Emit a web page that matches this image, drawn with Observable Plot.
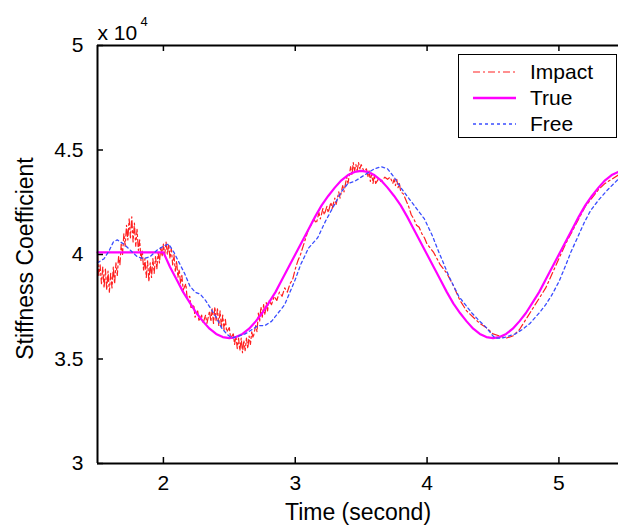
<!DOCTYPE html>
<html><head><meta charset="utf-8">
<script src="https://cdn.jsdelivr.net/npm/d3@7"></script>
<script src="https://cdn.jsdelivr.net/npm/@observablehq/plot@0.6"></script>
<style>
body{margin:0;background:#fff;overflow:hidden;}
#wrap{position:relative;width:618px;height:532px;font-family:"Liberation Sans",Arial,sans-serif;}
#legend{position:absolute;left:458px;top:54px;width:159px;height:84px;border:1.5px solid #000;background:#fff;box-sizing:border-box;}
#legend .row{position:absolute;left:0;height:26px;width:100%;}
#legend svg{position:absolute;left:13px;top:0;}
#legend span{position:absolute;left:71px;top:0;line-height:26px;font-size:21px;color:#000;}
</style>
</head><body><div id="wrap"></div>
<script>
// Series names
const seriesNames = ["Impact", "True", "Free"];
const seriesColors = ["#ff2020", "#ff00ff", "#3a4dff"];

// Axis ticks
const xTicks = [2, 3, 4, 5];
const yTicks = [3, 3.5, 4, 4.5, 5];
const xDomain = [1.5, 5.452];
const yDomain = [3, 5];

// True (values ×10^4)
const trueT = [1.5,1.6,1.7,1.8,1.9,2.0,2.05,2.1,2.15,2.2,2.25,2.3,2.35,2.4,2.45,2.5,2.55,2.6,2.65,2.7,2.75,2.8,2.85,2.9,2.95,3.0,3.05,3.1,3.15,3.2,3.25,3.3,3.35,3.4,3.45,3.5,3.55,3.6,3.65,3.7,3.75,3.8,3.85,3.9,3.95,4.0,4.05,4.1,4.15,4.2,4.25,4.3,4.35,4.4,4.45,4.5,4.55,4.6,4.65,4.7,4.75,4.8,4.85,4.9,4.95,5.0,5.05,5.1,5.15,5.2,5.25,5.3,5.35,5.4,5.45];
const trueV = [4.01,4.01,4.01,4.01,4.01,4.01,3.94,3.88,3.82,3.77,3.72,3.68,3.645,3.62,3.605,3.60,3.605,3.62,3.645,3.68,3.72,3.77,3.82,3.88,3.94,4.00,4.06,4.12,4.18,4.235,4.28,4.32,4.355,4.38,4.395,4.40,4.395,4.38,4.355,4.32,4.28,4.235,4.18,4.12,4.06,4.00,3.94,3.88,3.82,3.765,3.72,3.68,3.645,3.62,3.605,3.60,3.605,3.62,3.645,3.68,3.72,3.77,3.82,3.88,3.94,4.00,4.06,4.12,4.18,4.235,4.28,4.32,4.355,4.38,4.395];

// Impact (noisy estimate)
const impactT = [1.50,1.51,1.52,1.53,1.54,1.55,1.56,1.57,1.58,1.59,1.60,1.61,1.62,1.63,1.64,1.65,1.66,1.67,1.68,1.69,1.70,1.71,1.72,1.73,1.74,1.75,1.76,1.77,1.78,1.79,1.80,1.81,1.82,1.83,1.84,1.85,1.86,1.87,1.88,1.89,1.90,1.91,1.92,1.93,1.94,1.95,1.96,1.97,1.98,1.99,2.00,2.01,2.02,2.03,2.04,2.05,2.06,2.07,2.08,2.09,2.10,2.11,2.12,2.13,2.14,2.15,2.17,2.18,2.20,2.21,2.23,2.24,2.26,2.27,2.29,2.30,2.32,2.33,2.35,2.36,2.37,2.38,2.39,2.40,2.41,2.42,2.43,2.44,2.45,2.46,2.47,2.48,2.50,2.51,2.53,2.54,2.55,2.56,2.57,2.58,2.59,2.60,2.61,2.62,2.63,2.64,2.65,2.66,2.67,2.68,2.70,2.71,2.72,2.73,2.74,2.75,2.76,2.77,2.78,2.79,2.80,2.82,2.84,2.86,2.88,2.90,2.92,2.94,2.96,2.98,3.00,3.02,3.04,3.06,3.08,3.10,3.12,3.14,3.16,3.18,3.19,3.21,3.22,3.24,3.25,3.27,3.28,3.30,3.31,3.33,3.34,3.36,3.37,3.39,3.40,3.42,3.43,3.44,3.45,3.46,3.47,3.48,3.49,3.50,3.52,3.54,3.55,3.56,3.57,3.58,3.59,3.60,3.61,3.63,3.65,3.68,3.70,3.72,3.74,3.75,3.76,3.77,3.78,3.79,3.80,3.82,3.84,3.86,3.88,3.90,3.92,3.94,3.96,3.98,4.00,4.05,4.10,4.15,4.20,4.25,4.30,4.35,4.40,4.45,4.50,4.55,4.60,4.65,4.70,4.75,4.80,4.85,4.90,4.95,5.00,5.05,5.10,5.15,5.20,5.25,5.30,5.35,5.40,5.45];
const impactV = [4.00,3.90,3.95,3.86,3.94,3.84,3.93,3.83,3.92,3.82,3.91,3.84,3.94,3.86,3.96,3.90,3.99,3.95,4.05,4.00,4.10,4.04,4.14,4.07,4.17,4.08,4.18,4.06,4.15,4.04,4.12,4.02,4.07,3.97,4.02,3.92,3.98,3.89,3.97,3.87,3.96,3.89,3.98,3.91,3.99,3.93,4.01,3.96,4.04,3.99,4.05,4.00,4.06,4.00,4.05,3.98,4.03,3.95,4.00,3.92,3.97,3.89,3.93,3.86,3.90,3.83,3.86,3.79,3.80,3.74,3.76,3.70,3.73,3.68,3.71,3.67,3.71,3.67,3.73,3.68,3.74,3.67,3.75,3.68,3.74,3.66,3.73,3.65,3.71,3.64,3.69,3.63,3.65,3.60,3.62,3.57,3.61,3.55,3.60,3.54,3.60,3.53,3.59,3.54,3.60,3.55,3.61,3.57,3.63,3.60,3.66,3.63,3.72,3.68,3.75,3.70,3.76,3.71,3.77,3.73,3.78,3.76,3.80,3.78,3.82,3.80,3.84,3.82,3.86,3.88,3.93,3.97,4.00,4.04,4.08,4.12,4.14,4.17,4.15,4.20,4.17,4.22,4.19,4.23,4.20,4.25,4.22,4.27,4.24,4.30,4.27,4.33,4.30,4.37,4.34,4.42,4.38,4.44,4.40,4.43,4.40,4.44,4.41,4.43,4.40,4.41,4.37,4.40,4.35,4.39,4.34,4.38,4.34,4.36,4.35,4.37,4.36,4.37,4.34,4.36,4.33,4.36,4.32,4.34,4.30,4.29,4.26,4.23,4.19,4.17,4.14,4.13,4.10,4.08,4.05,4.01,3.95,3.91,3.85,3.78,3.73,3.70,3.67,3.65,3.62,3.61,3.60,3.61,3.64,3.69,3.74,3.79,3.84,3.91,3.98,4.05,4.11,4.17,4.23,4.27,4.31,4.34,4.36,4.38];

// Free
const freeT = [1.50,1.55,1.59,1.62,1.65,1.70,1.75,1.80,1.85,1.90,1.95,2.00,2.04,2.08,2.12,2.16,2.20,2.24,2.28,2.32,2.36,2.40,2.44,2.48,2.52,2.57,2.62,2.67,2.72,2.77,2.82,2.87,2.92,2.96,3.00,3.04,3.10,3.17,3.23,3.29,3.35,3.40,3.45,3.50,3.55,3.60,3.65,3.70,3.75,3.80,3.86,3.92,3.98,4.04,4.09,4.13,4.17,4.24,4.29,4.34,4.40,4.45,4.50,4.52,4.57,4.62,4.67,4.72,4.78,4.85,4.90,4.95,5.00,5.04,5.09,5.14,5.19,5.24,5.30,5.37,5.45];
const freeV = [3.96,3.98,4.02,4.06,4.07,4.05,4.02,3.99,3.98,3.99,4.02,4.04,4.05,4.01,3.96,3.91,3.85,3.82,3.81,3.78,3.74,3.70,3.65,3.62,3.60,3.61,3.62,3.64,3.66,3.66,3.68,3.72,3.76,3.82,3.88,3.95,4.03,4.08,4.16,4.23,4.30,4.34,4.35,4.37,4.39,4.41,4.42,4.41,4.37,4.32,4.27,4.22,4.17,4.09,4.01,3.95,3.89,3.80,3.76,3.72,3.68,3.65,3.61,3.60,3.60,3.61,3.62,3.64,3.67,3.72,3.76,3.81,3.87,3.93,4.01,4.08,4.15,4.21,4.26,4.31,4.36];

const impact = impactT.map((t, i) => ({t, v: impactV[i]}));
const truth = trueT.map((t, i) => ({t, v: trueV[i]}));
const free = freeT.map((t, i) => ({t, v: freeV[i]}));

const W = 618, H = 532, mL = 97, mR = 0, mT = 45, mB = 69;
const innerW = W - mL - mR, innerH = H - mT - mB;
const font = "Liberation Sans, Arial, sans-serif";

const chart = Plot.plot({
  width: W, height: H,
  marginLeft: mL, marginRight: mR, marginTop: mT, marginBottom: mB,
  style: {fontFamily: font, background: "#fff", overflow: "visible"},
  x: {domain: xDomain},
  y: {domain: yDomain},
  marks: [
    Plot.axisX({ticks: xTicks, tickSize: 0, tickPadding: 12, fontSize: 21, label: null, tickFormat: d => String(d)}),
    Plot.axisY({ticks: yTicks, tickSize: 0, tickPadding: 14, fontSize: 21, label: null, tickFormat: d => String(d)}),
    Plot.line(impact, {x: "t", y: "v", stroke: seriesColors[0], strokeWidth: 1.2, strokeDasharray: "7,3,2,3", curve: "linear"}),
    Plot.line(truth, {x: "t", y: "v", stroke: seriesColors[1], strokeWidth: 2.2, curve: "linear"}),
    Plot.line(free, {x: "t", y: "v", stroke: seriesColors[2], strokeWidth: 1.3, strokeDasharray: "3,3", curve: "linear"}),
    Plot.tickX(xTicks, {x: d => d, insetTop: innerH - 6, stroke: "#000", strokeWidth: 1.5}),
    Plot.tickX(xTicks, {x: d => d, insetBottom: innerH - 6, stroke: "#000", strokeWidth: 1.5}),
    Plot.tickY(yTicks, {y: d => d, insetRight: innerW - 6, stroke: "#000", strokeWidth: 1.5}),
    Plot.ruleY(yDomain, {stroke: "#000", strokeWidth: 2}),
    Plot.ruleX([xDomain[0]], {stroke: "#000", strokeWidth: 2}),
    Plot.text(["Time (second)"], {frameAnchor: "bottom", textAnchor: "middle", dy: 56, fontSize: 23, fill: "#000"}),
    Plot.text(["Stiffness Coefficient"], {frameAnchor: "left", textAnchor: "middle", dx: -72, dy: 4, rotate: -90, fontSize: 23, fill: "#000"}),
    Plot.text(["x 10"], {frameAnchor: "top-left", textAnchor: "start", dx: 0, dy: -20, fontSize: 21, fill: "#000"}),
    Plot.text(["4"], {frameAnchor: "top-left", textAnchor: "start", dx: 43, dy: -29, fontSize: 13, fill: "#000"})
  ]
});

const wrap = document.getElementById("wrap");
wrap.appendChild(chart);

// Legend overlay
const legend = document.createElement("div");
legend.id = "legend";
const dashes = ["7,3,2,3", null, "3,3"];
const widths = [1.2, 2.5, 1.3];
seriesNames.forEach((name, i) => {
  const row = document.createElement("div");
  row.className = "row";
  row.style.top = (4 + i * 26) + "px";
  row.innerHTML = `<svg width="46" height="26"><line x1="1" x2="44" y1="13" y2="13" stroke="${seriesColors[i]}" stroke-width="${widths[i]}" ${dashes[i] ? `stroke-dasharray="${dashes[i]}"` : ""}/></svg><span>${name}</span>`;
  legend.appendChild(row);
});
wrap.appendChild(legend);
</script></body></html>
